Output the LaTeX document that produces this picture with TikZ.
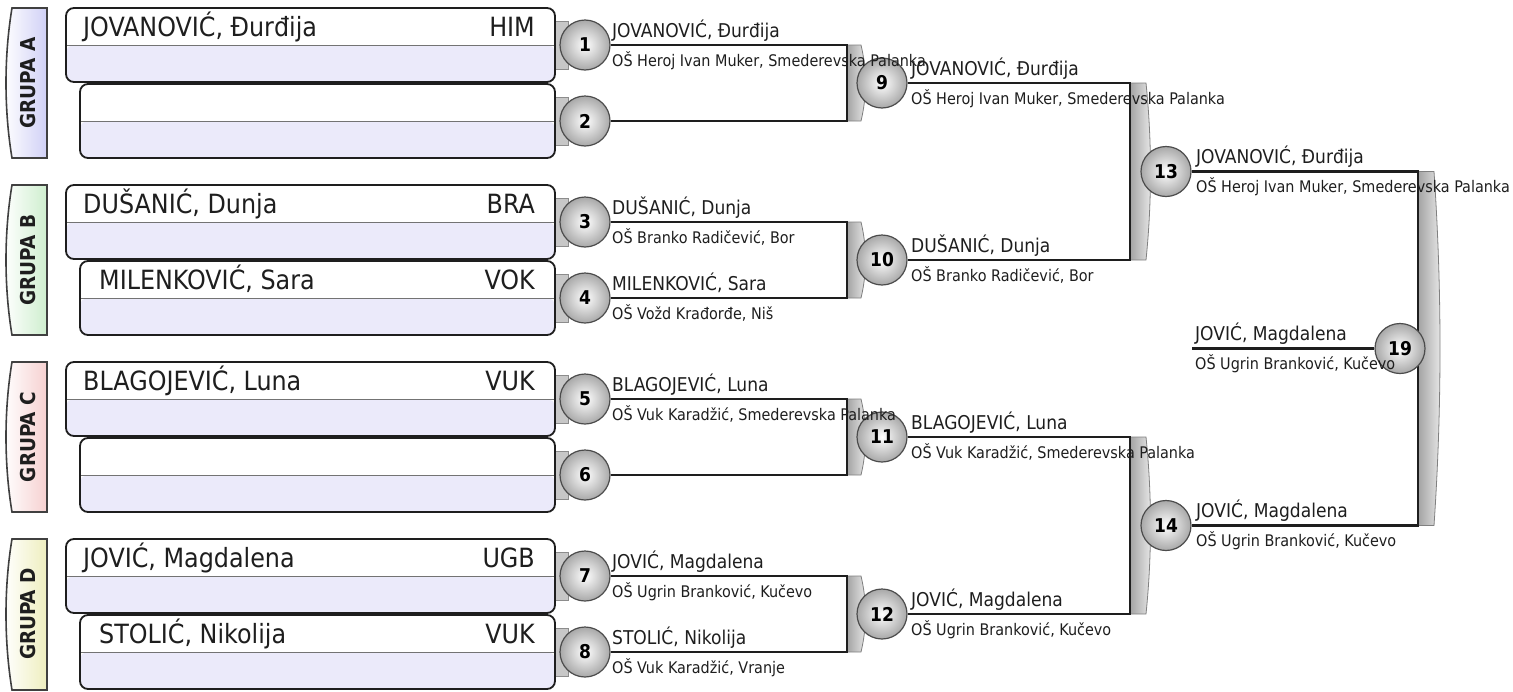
\documentclass[tikz,border=0pt]{standalone}
\usepackage{fontspec}
\setmainfont{DejaVuSansCondensed.ttf}[BoldFont=DejaVuSansCondensed-Bold.ttf]
\usetikzlibrary{positioning}
\pgfdeclarelayer{bg}
\pgfsetlayers{bg,main}
\definecolor{ink}{RGB}{30,30,30}
\definecolor{lav}{RGB}{235,234,250}
\definecolor{tabA}{RGB}{208,208,246}
\definecolor{tabB}{RGB}{206,238,206}
\definecolor{tabC}{RGB}{246,208,208}
\definecolor{tabD}{RGB}{238,238,190}

\begin{document}
\begin{tikzpicture}[x = 1pt, y = -1pt,
  player/.style = {draw = ink, line width = 1.8pt, rounded corners = 8pt, inner sep = 0pt, fill = white,
    path picture = {\fill[lav] (path picture bounding box.west) rectangle (path picture bounding box.south east);
      \draw[black!55, line width = 1pt] (path picture bounding box.west) -- (path picture bounding box.east);}},
  wide/.style = {player, minimum width = 489pt, minimum height = 74pt},
  narrow/.style = {player, minimum width = 475pt, minimum height = 74pt},
  grouptab/.style = {draw = black!75, line width = 1.6pt, left color = white},
  grp/.style = {rotate = 90, font = \fontsize{20.5}{21}\selectfont\bfseries, text = ink},
  nm/.style = {anchor = base west, inner sep = 0pt, font = \fontsize{26.5}{27}\selectfont, text = ink},
  code/.style = {anchor = base east, inner sep = 0pt, font = \fontsize{26.5}{27}\selectfont, text = ink},
  match/.style = {circle, draw = black!70, line width = 1.2pt, minimum size = 50pt, inner sep = 0pt,
    inner color = white, outer color = black!34, font = \fontsize{19}{19}\selectfont\bfseries},
  who/.style = {anchor = base west, inner sep = 0pt, font = \fontsize{19}{19}\selectfont, text = ink},
  sch/.style = {anchor = base west, inner sep = 0pt, font = \fontsize{16}{16}\selectfont, text = ink},
  stub/.style = {fill = black!22, draw = black!45, line width = 0.8pt},
  joint/.style = {left color = black!36, right color = black!8, draw = black!50, line width = 0.8pt},
  wire/.style = {draw = ink, line width = 2.6pt}]
\useasboundingbox (0, 0) rectangle (1513, 691);

% group tabs
\draw[grouptab, right color = tabA] (12, 8) -- (47, 8) -- (47, 158) -- (12, 158) .. controls (4, 110) and (4, 56) .. (12, 8) -- cycle;
\draw[grouptab, right color = tabB] (12, 185) -- (47, 185) -- (47, 335) -- (12, 335) .. controls (4, 287) and (4, 233) .. (12, 185) -- cycle;
\draw[grouptab, right color = tabC] (12, 362) -- (47, 362) -- (47, 512) -- (12, 512) .. controls (4, 464) and (4, 410) .. (12, 362) -- cycle;
\draw[grouptab, right color = tabD] (12, 539) -- (47, 539) -- (47, 690) -- (12, 690) .. controls (4, 641) and (4, 587) .. (12, 539) -- cycle;
\node[grp] (gA) at (28, 83) {GRUPA A};
\node[grp] (gB) at (28, 260) {GRUPA B};
\node[grp] (gC) at (28, 437) {GRUPA C};
\node[grp] (gD) at (28, 614) {GRUPA D};

% players
\node[wide] (p1) at (310.5, 45) {};
\node[narrow] (p2) at (317.5, 121) {};
\node[wide] (p3) at (310.5, 222) {};
\node[narrow] (p4) at (317.5, 298) {};
\node[wide] (p5) at (310.5, 399) {};
\node[narrow] (p6) at (317.5, 475) {};
\node[wide] (p7) at (310.5, 576) {};
\node[narrow] (p8) at (317.5, 652) {};
\node[nm] (n1) at (83, 36) {JOVANOVIĆ, Đurđija};
\node[code] (c1) at (535, 36) {HIM};
\node[nm] (n3) at (83, 213) {DUŠANIĆ, Dunja};
\node[code] (c3) at (535, 213) {BRA};
\node[nm] (n4) at (99, 289) {MILENKOVIĆ, Sara};
\node[code] (c4) at (535, 289) {VOK};
\node[nm] (n5) at (83, 390) {BLAGOJEVIĆ, Luna};
\node[code] (c5) at (535, 390) {VUK};
\node[nm] (n7) at (83, 567) {JOVIĆ, Magdalena};
\node[code] (c7) at (535, 567) {UGB};
\node[nm] (n8) at (99, 643) {STOLIĆ, Nikolija};
\node[code] (c8) at (535, 643) {VUK};

% matches
\node[match] (m1) at (585, 45) {1};
\node[match] (m2) at (585, 121) {2};
\node[match] (m3) at (585, 222) {3};
\node[match] (m4) at (585, 298) {4};
\node[match] (m5) at (585, 399) {5};
\node[match] (m6) at (585, 475) {6};
\node[match] (m7) at (585, 576) {7};
\node[match] (m8) at (585, 652) {8};
\node[match] (m9) at (882, 83) {9};
\node[match] (m10) at (882, 260) {10};
\node[match] (m11) at (882, 437) {11};
\node[match] (m12) at (882, 614) {12};
\node[match] (m13) at (1166, 171.5) {13};
\node[match] (m14) at (1166, 525.5) {14};
\node[match] (m19) at (1400, 348.5) {19};

\coordinate (k9) at (847, 83);
\coordinate (k10) at (847, 260);
\coordinate (k11) at (847, 437);
\coordinate (k12) at (847, 614);
\coordinate (k13) at (1130, 171.5);
\coordinate (k14) at (1130, 525.5);
\coordinate (k19) at (1418, 348.5);
\coordinate (f19) at (1192, 348.5);

\begin{pgfonlayer}{bg}
\draw[stub] (555, 21) rectangle (568, 69);
\draw[stub] (555, 97) rectangle (568, 145);
\draw[stub] (555, 198) rectangle (568, 246);
\draw[stub] (555, 274) rectangle (568, 322);
\draw[stub] (555, 375) rectangle (568, 423);
\draw[stub] (555, 451) rectangle (568, 499);
\draw[stub] (555, 552) rectangle (568, 600);
\draw[stub] (555, 628) rectangle (568, 676);
\draw[joint] (847, 45) -- (861, 45) .. controls (867, 70) and (867, 96) .. (861, 121) -- (847, 121) -- cycle;
\draw[joint] (847, 222) -- (861, 222) .. controls (867, 247) and (867, 273) .. (861, 298) -- (847, 298) -- cycle;
\draw[joint] (847, 399) -- (861, 399) .. controls (867, 424) and (867, 450) .. (861, 475) -- (847, 475) -- cycle;
\draw[joint] (847, 576) -- (861, 576) .. controls (867, 601) and (867, 627) .. (861, 652) -- (847, 652) -- cycle;
\draw[joint] (1130, 83) -- (1146, 83) .. controls (1152, 142) and (1152, 201) .. (1146, 260) -- (1130, 260) -- cycle;
\draw[joint] (1130, 437) -- (1146, 437) .. controls (1152, 496) and (1152, 555) .. (1146, 614) -- (1130, 614) -- cycle;
\draw[joint] (1418, 171.5) -- (1434, 171.5) .. controls (1442, 290) and (1442, 407) .. (1434, 525.5) -- (1418, 525.5) -- cycle;
\draw[wire] (m1.east) -| (k9) |- (m2.east);
\draw[wire] (m3.east) -| (k10) |- (m4.east);
\draw[wire] (m5.east) -| (k11) |- (m6.east);
\draw[wire] (m7.east) -| (k12) |- (m8.east);
\draw[wire] (m9.east) -| (k13) |- (m10.east);
\draw[wire] (m11.east) -| (k14) |- (m12.east);
\draw[wire] (m13.east) -| (k19) |- (m14.east);
\draw[wire] (m19.west) -- (f19);
\end{pgfonlayer}

% winners
\node[who] (w1) at (612, 37) {JOVANOVIĆ, Đurđija};
\node[sch] (s1) at (612, 66) {OŠ Heroj Ivan Muker, Smederevska Palanka};
\node[who] (w3) at (612, 214) {DUŠANIĆ, Dunja};
\node[sch] (s3) at (612, 243) {OŠ Branko Radičević, Bor};
\node[who] (w4) at (612, 290) {MILENKOVIĆ, Sara};
\node[sch] (s4) at (612, 319) {OŠ Vožd Krađorđe, Niš};
\node[who] (w5) at (612, 391) {BLAGOJEVIĆ, Luna};
\node[sch] (s5) at (612, 420) {OŠ Vuk Karadžić, Smederevska Palanka};
\node[who] (w7) at (612, 568) {JOVIĆ, Magdalena};
\node[sch] (s7) at (612, 597) {OŠ Ugrin Branković, Kučevo};
\node[who] (w8) at (612, 644) {STOLIĆ, Nikolija};
\node[sch] (s8) at (612, 673) {OŠ Vuk Karadžić, Vranje};
\node[who] (w9) at (911, 75) {JOVANOVIĆ, Đurđija};
\node[sch] (s9) at (911, 104) {OŠ Heroj Ivan Muker, Smederevska Palanka};
\node[who] (w10) at (911, 252) {DUŠANIĆ, Dunja};
\node[sch] (s10) at (911, 281) {OŠ Branko Radičević, Bor};
\node[who] (w11) at (911, 429) {BLAGOJEVIĆ, Luna};
\node[sch] (s11) at (911, 458) {OŠ Vuk Karadžić, Smederevska Palanka};
\node[who] (w12) at (911, 606) {JOVIĆ, Magdalena};
\node[sch] (s12) at (911, 635) {OŠ Ugrin Branković, Kučevo};
\node[who] (w13) at (1196, 163.5) {JOVANOVIĆ, Đurđija};
\node[sch] (s13) at (1196, 192.5) {OŠ Heroj Ivan Muker, Smederevska Palanka};
\node[who] (w14) at (1196, 517.5) {JOVIĆ, Magdalena};
\node[sch] (s14) at (1196, 546.5) {OŠ Ugrin Branković, Kučevo};
\node[who] (w19) at (1195, 340.5) {JOVIĆ, Magdalena};
\node[sch] (s19) at (1195, 369.5) {OŠ Ugrin Branković, Kučevo};
\end{tikzpicture}
\end{document}
